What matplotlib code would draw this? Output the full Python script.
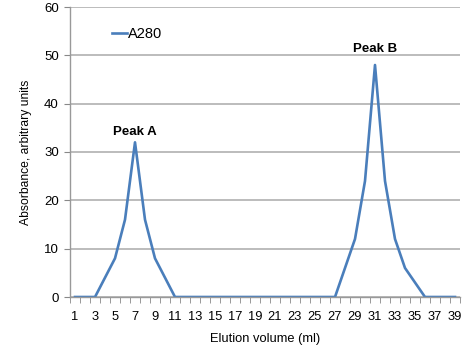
import numpy as np
from matplotlib import pyplot as plt

plt.rcParams.update({
    "font.family": ['Liberation Sans', 'DejaVu Sans'],
    "font.size": 9,
})

# elution volume categories (ml) and absorbance readings
volume = list(range(1, 40))
a280 = [0, 0, 0, 4, 8, 16, 32, 16, 8, 4,
        0, 0, 0, 0, 0, 0, 0, 0, 0, 0,
        0, 0, 0, 0, 0, 0, 0, 6, 12, 24,
        48, 24, 12, 6, 3, 0, 0, 0, 0]
peaks = ["Peak A", "Peak B"]
peak_x = [7, 31]
peak_label_y = [33.5, 50.7]

fig = plt.figure(figsize=(4.74, 3.55), dpi=100)
ax = fig.add_axes([70/474, 58/355, 390/474, 290/355])

ax.plot(volume, a280, color='#4A7EBB', linewidth=1.9, label='A280')

ax.set_xlim(0.5, 39.5)
ax.set_ylim(0, 60)
ax.set_yticks(np.arange(0, 61, 10))
ax.set_xticks(volume[::2])
ax.set_xticks(np.arange(0.5, 40, 1), minor=True)
ax.tick_params(axis='x', which='major', length=0, pad=10, labelsize=9.3)
ax.tick_params(axis='x', which='minor', length=4, color='#888888', direction='out')
ax.tick_params(axis='y', length=4, color='#888888', labelsize=9.5, pad=4)

ax.grid(axis='y', color='#aaaaaa', linewidth=1.1)
ax.set_axisbelow(True)
for s in ['top', 'right']:
    ax.spines[s].set_visible(False)
for s in ['left', 'bottom']:
    ax.spines[s].set_color('#999999')
    ax.spines[s].set_linewidth(1.0)

for name, x, y in zip(peaks, peak_x, peak_label_y):
    ax.text(x, y, name, ha='center', va='baseline', fontsize=9.5, fontweight='bold')

ax.set_xlabel("Elution volume (ml)", fontsize=9.3, labelpad=7)
ax.set_ylabel("Absorbance, arbitrary units", fontsize=8.7, labelpad=9)

ax.legend(loc='center left', bbox_to_anchor=(0.075, 0.907), frameon=False,
          handlelength=1.0, handletextpad=0.1, fontsize=10.5)

fig.savefig('out.png', dpi=100)
